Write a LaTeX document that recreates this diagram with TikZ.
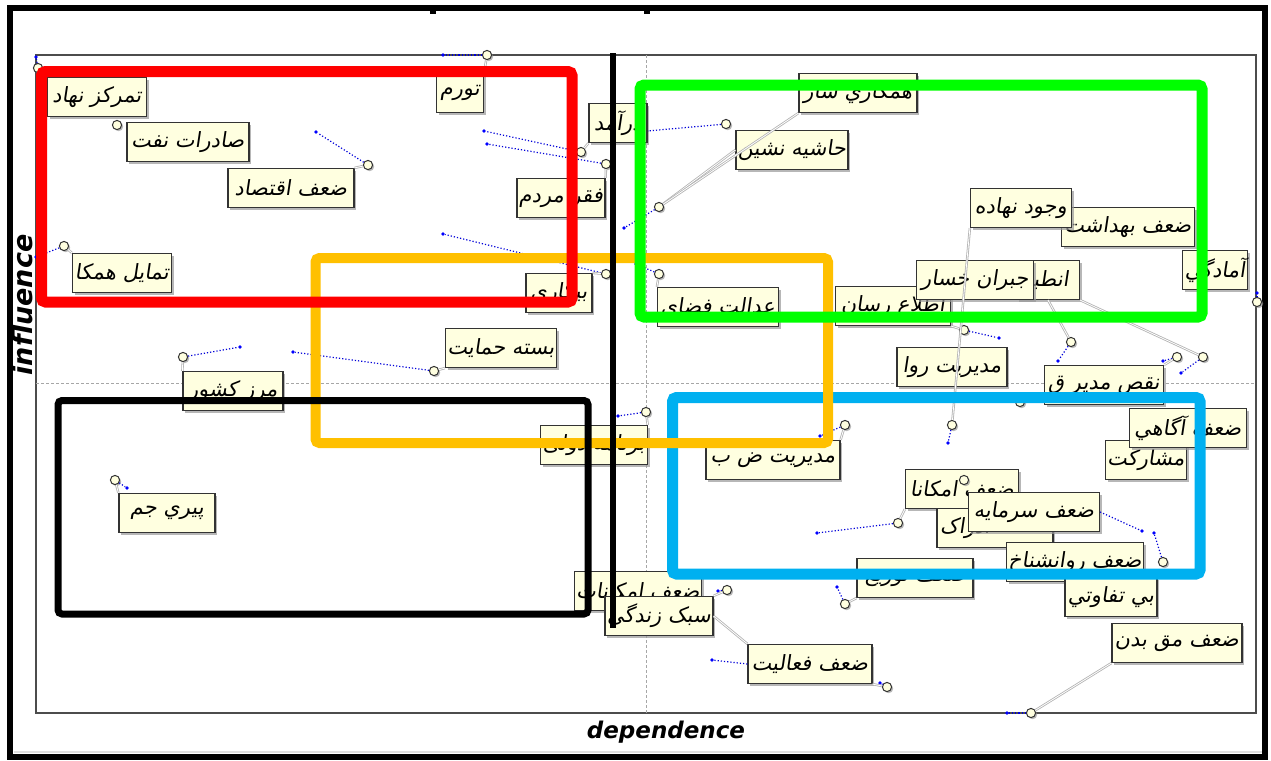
\documentclass[tikz,border=0pt]{standalone}
\usepackage{fontspec}
\usepackage{tikz}
\usetikzlibrary{shadows}
\newfontfamily\fa[Script=Arabic, FakeSlant=0.15]{DejaVu Sans}
\newfontfamily\axisfont{DejaVu Sans}
\TeXXeTstate=1
\newcommand{\fatext}[1]{\beginR #1\endR}
\definecolor{lblfill}{RGB}{255,255,224}
\definecolor{boxred}{RGB}{255,0,0}
\definecolor{boxgreen}{RGB}{0,255,0}
\definecolor{boxorange}{RGB}{255,192,0}
\definecolor{boxblue}{RGB}{0,176,240}
\tikzset{
    lbl/.style={draw=gray!40!black, fill=lblfill, line width=0.6pt, inner xsep=1pt, inner ysep=0pt,
        minimum height=19.5pt, font=\fa\fontsize{10.5}{12}\selectfont,
        drop shadow={shadow xshift=1.2pt, shadow yshift=-1.2pt, fill=gray!80, opacity=0.7}},
    pnt/.style={circle, draw=gray!40!black, fill=lblfill, line width=0.5pt, inner sep=0pt, minimum size=4.6pt,
        drop shadow={shadow xshift=0.8pt, shadow yshift=-0.8pt, fill=gray!80, opacity=0.7}},
    bdot/.style={circle, fill=blue, inner sep=0pt, minimum size=1.8pt},
    blead/.style={blue!85!black, densely dotted, line width=0.6pt},
    glead/.style={gray!60, line width=0.4pt, double=white, double distance=0.4pt},
    quad/.style={line width=#1, rounded corners=2pt},
    axlab/.style={font=\axisfont\bfseries\itshape\fontsize{11.5}{13}\selectfont}
}

\begin{document}
\begin{tikzpicture}[x=0.5pt, y=-0.5pt]
\useasboundingbox (0,0) rectangle (1271,761);
\fill[white] (0,0) rectangle (1271,761);
% frame and plot area
\draw[gray!25, line width=1pt] (14,752) -- (1262,752);
\draw[black, line width=2.6pt] (10,8) rectangle (1265,757);
\fill (430,9) rectangle (436,14);
\fill (644,9) rectangle (650,14);
\draw[gray!60!black, line width=0.6pt] (36,55) rectangle (1256,713);
\draw[gray!70, line width=0.3pt, dash pattern=on 1.5pt off 1pt] (36,383) -- (1256,383);
\draw[gray!70, line width=0.3pt, dash pattern=on 1.5pt off 1pt] (646,55) -- (646,713);
\node[axlab, font=\axisfont\bfseries\itshape\fontsize{13.5}{15}\selectfont, rotate=90] (infl) at (22,305) {influence};
\node[axlab] (dep) at (666,732) {dependence};

% blue ends
\node[bdot] (bA) at (36,57) {};
\node[bdot] (bB) at (443,55) {};
\node[bdot] (bD) at (316,132) {};
\node[bdot] (bE) at (36,257) {};
\node[bdot] (bF) at (484,131) {};
\node[bdot] (bG) at (487,144) {};
\node[bdot] (bH) at (647,131) {};
\node[bdot] (bI) at (624,228) {};
\node[bdot] (bJ) at (443,234) {};
\node[bdot] (bK) at (636,264) {};
\node[bdot] (bL) at (240,347) {};
\node[bdot] (bM) at (293,352) {};
\node[bdot] (bN) at (127,488) {};
\node[bdot] (bO) at (618,416) {};
\node[bdot] (bP) at (820,436) {};
\node[bdot] (bQ) at (999,338) {};
\node[bdot] (bR) at (1058,361) {};
\node[bdot] (bS) at (1163,361) {};
\node[bdot] (bT) at (1181,373) {};
\node[bdot] (bU) at (1257,293) {};
\node[bdot] (bW) at (948,443) {};
\node[bdot] (bY) at (817,533) {};
\node[bdot] (bZ) at (1154,533) {};
\node[bdot] (bb) at (837,587) {};
\node[bdot] (bc) at (718,591) {};
\node[bdot] (bd) at (880,683) {};
\node[bdot] (be) at (1007,713) {};
\node[bdot] (bf) at (1142,531) {};
\node[bdot] (bg) at (712,660) {};

% points
\node[pnt] (pA) at (38,68) {};
\node[pnt] (pB) at (487,55) {};
\node[pnt] (pC) at (117,125) {};
\node[pnt] (pD) at (368,165) {};
\node[pnt] (pE) at (64,246) {};
\node[pnt] (pF) at (581,152) {};
\node[pnt] (pG) at (606,164) {};
\node[pnt] (pH) at (726,124) {};
\node[pnt] (pI) at (659,207) {};
\node[pnt] (pJ) at (606,274) {};
\node[pnt] (pK) at (659,274) {};
\node[pnt] (pL) at (183,357) {};
\node[pnt] (pM) at (434,371) {};
\node[pnt] (pN) at (115,480) {};
\node[pnt] (pO) at (646,412) {};
\node[pnt] (pP) at (845,425) {};
\node[pnt] (pQ) at (964,330) {};
\node[pnt] (pR) at (1071,342) {};
\node[pnt] (pS) at (1177,357) {};
\node[pnt] (pT) at (1203,357) {};
\node[pnt] (pU) at (1257,302) {};
\node[pnt] (pV) at (1020,402) {};
\node[pnt] (pW) at (952,425) {};
\node[pnt] (pY) at (898,523) {};
\node[pnt] (pZ) at (1163,562) {};
\node[pnt] (pa) at (1003,536) {};
\node[pnt] (pb) at (845,604) {};
\node[pnt] (pc) at (727,590) {};
\node[pnt] (pd) at (887,687) {};
\node[pnt] (pe) at (1031,713) {};

\foreach \p in {A,B,D,E,F,G,H,I,J,K,L,M,N,O,P,Q,R,S,T,U,W,Y,Z,b,c,d,e}
    \draw[blead] (p\p) -- (b\p);

% labels
\node[lbl, minimum width=99*0.5pt] (nahad) at (97,97) {\fatext{تمرکز نهاد}};
\node[lbl, minimum width=122*0.5pt] (naft) at (188,142) {\fatext{صادرات نفت}};
\node[lbl, minimum width=126*0.5pt] (eqtesad) at (291,188) {\fatext{ضعف اقتصاد}};
\node[lbl, minimum width=99*0.5pt] (hamkari) at (122,273) {\fatext{تمایل همکا}};
\node[lbl, minimum width=47*0.5pt] (tavarom) at (460,93) {\fatext{تورم}};
\node[lbl, minimum width=58*0.5pt] (daramad) at (618,123) {\fatext{درآمد}};
\node[lbl, minimum width=84*0.5pt] (faqr) at (561,198) {\fatext{فقر مردم}};
\node[lbl, minimum width=118*0.5pt] (hamkarisaz) at (858,93) {\fatext{همکاري ساز}};
\node[lbl, minimum width=111*0.5pt] (hashie) at (792,150) {\fatext{حاشیه نشین}};
\node[lbl, minimum width=133*0.5pt] (behdasht) at (1128,227) {\fatext{ضعف بهداشت}};
\node[lbl, minimum width=101*0.5pt] (vojud) at (1021,208) {\fatext{وجود نهاده}};
\node[lbl, minimum width=64*0.5pt] (amadegi) at (1215,270) {\fatext{آمادگي}};
\node[lbl, minimum width=63*0.5pt] (entebagh) at (1048,280) {\fatext{انطبا}};
\node[lbl, minimum width=115*0.5pt] (ettela) at (893,306) {\fatext{اطلاع رسان}};
\node[lbl, minimum width=117*0.5pt] (jobran) at (975,280) {\fatext{جبران خسار}};
\node[lbl, minimum width=110*0.5pt] (rava) at (952,367) {\fatext{مدیریت روا}};
\node[lbl, minimum width=119*0.5pt] (naqs) at (1104,385) {\fatext{نقص مدیر ق}};
\node[lbl, minimum width=81*0.5pt] (mosharekat) at (1146,460) {\fatext{مشارکت}};
\node[lbl, minimum width=117*0.5pt] (agahi) at (1188,428) {\fatext{ضعف آگاهي}};
\node[lbl, minimum width=113*0.5pt] (emkanat) at (962,489) {\fatext{ضعف امکانا}};
\node[lbl, minimum width=116*0.5pt, text width=110*0.5pt, align=left] (edrak) at (995,528) {\fatext{ادراک}};
\node[lbl, minimum width=131*0.5pt] (sarmaye) at (1034,512) {\fatext{ضعف سرمایه}};
\node[lbl, minimum width=123*0.5pt] (ravan) at (1075,562) {\fatext{ضعف روانشناخ}};
\node[lbl, minimum width=92*0.5pt] (tafavoti) at (1111,597) {\fatext{بي تفاوتي}};
\node[lbl, minimum width=116*0.5pt] (tozi) at (915,578) {\fatext{ضعف توزیع}};
\node[lbl, minimum width=130*0.5pt] (badan) at (1177,643) {\fatext{ضعف مق بدن}};
\node[lbl, minimum width=124*0.5pt] (faaliat) at (810,664) {\fatext{ضعف فعالیت}};
\node[lbl, minimum width=109*0.5pt] (emkan) at (638,591) {\fatext{ضعف امکانات}};
\node[lbl, minimum width=106*0.5pt] (zendegi) at (659,616) {\fatext{سبک زندگی}};
\node[lbl, minimum width=134*0.5pt] (modiriat) at (773,460) {\fatext{مدیریت ض ب}};
\node[lbl, minimum width=101*0.5pt] (barname) at (594,445) {\fatext{برنامه دولی}};
\node[lbl, minimum width=121*0.5pt] (edalat) at (718,307) {\fatext{عدالت فضای}};
\node[lbl, minimum width=66*0.5pt] (bikari) at (559,293) {\fatext{بیکاری}};
\node[lbl, minimum width=111*0.5pt] (baste) at (501,348) {\fatext{بسته حمایت}};
\node[lbl, minimum width=100*0.5pt] (marz) at (233,391) {\fatext{مرز کشور}};
\node[lbl, minimum width=96*0.5pt] (piri) at (167,513) {\fatext{پيري جم}};
\node[pnt] (pX) at (964,480) {};

% leaders from labels to points
\draw[glead] (pA) -- (nahad.north west);
\draw[glead] (pD) -- (eqtesad.north east);
\draw[glead] (pE) -- (hamkari.north west);
\draw[glead] (pB) -- (tavarom.north east);
\draw[glead] (pF) -- (daramad.south west);
\draw[glead] (pG) -- (faqr.north east);
\draw[glead] (pI) -- (hashie.west);
\draw[glead] (pI) -- (hamkarisaz.south west);
\draw[glead] (pJ) -- (bikari.north east);
\draw[glead] (pK) -- (edalat.north west);
\draw[glead] (pL) -- (marz.north west);
\draw[glead] (pM) -- (baste.south west);
\draw[glead] (pN) -- (piri.north west);
\draw[glead] (pO) -- (barname.north east);
\draw[glead] (pP) -- (modiriat.north east);
\draw[glead] (pQ) -- (ettela.south east);
\draw[glead] (vojud.south west) -- (pW);
\draw[glead] (entebagh.south) -- (pR);
\draw[glead] (entebagh.south east) -- (pT);
\draw[glead] (pS) -- (naqs.north east);
\draw[glead] (pY) -- (emkanat.south west);
\draw[glead] (pb) -- (tozi.south west);
\draw[glead] (pc) -- (zendegi.north east);
\draw[glead] (zendegi.east) -- (faaliat.north west);
\draw[glead] (pd) -- (faaliat.south east);
\draw[glead] (pe) -- (badan.south west);
\draw[blead] (sarmaye.east) -- (bf);
\draw[blead] (faaliat.west) -- (bg);

% groups
\draw[boxblue, quad=5.5pt] (672.5,397.5) rectangle (1200,574);
\draw[boxorange, quad=5pt] (315.5,258) rectangle (828,443);
\draw[boxred, quad=5.5pt] (41.5,71.5) rectangle (572,302);
\draw[boxgreen, quad=5.5pt] (640,85) rectangle (1202,317);
\draw[black, quad=3.5pt] (58,400.5) rectangle (588,614);
\draw[black, line width=3pt] (613,53) -- (613,628);
\end{tikzpicture}
\end{document}
